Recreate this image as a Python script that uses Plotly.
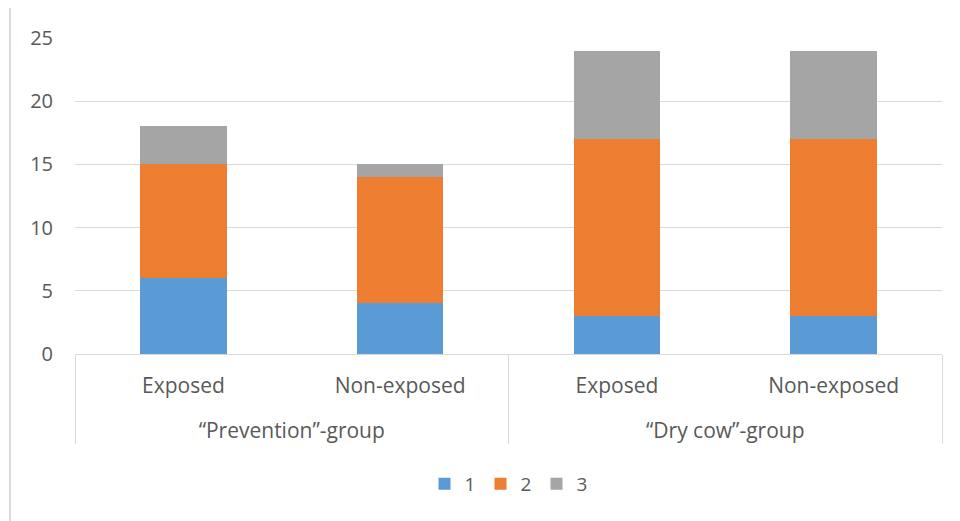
import plotly.graph_objects as go

groups = ["“Prevention”-group", "“Prevention”-group", "“Dry cow”-group", "“Dry cow”-group"]
subcats = ["Exposed", "Non-exposed", "Exposed", "Non-exposed"]
series_names = ["1", "2", "3"]
s1 = [6, 4, 3, 3]
s2 = [9, 10, 14, 14]
s3 = [3, 1, 7, 7]
colors = ["#5b9bd5", "#ed7d31", "#a5a5a5"]
y_ticks = [0, 5, 10, 15, 20, 25]

# a blank first line widens the gap between the two label rows
x_groups = ["<br>" + g for g in groups]
x_subcats = subcats

fig = go.Figure()
for name, vals, c in zip(series_names, [s1, s2, s3], colors):
    fig.add_trace(go.Bar(x=[x_groups, x_subcats], y=vals, name=name, marker_color=c,
                         marker_line_width=0))

# page has an 8px body margin; margins compensate so the plot lands where the reference has it
L, T, R, B = 67, 30, 26, 175
H = 521
plot_h = H - T - B

fig.update_layout(
    barmode="stack",
    bargap=0.6,
    width=960, height=H,
    margin=dict(l=L, r=R, t=T, b=B, autoexpand=False),
    plot_bgcolor="white", paper_bgcolor="white",
    font=dict(family="Open Sans, sans-serif", size=19, color="#595959"),
    legend=dict(orientation="h", x=0.5, xanchor="center",
                y=(T + plot_h - 476) / plot_h, yanchor="middle",
                font=dict(size=19), itemwidth=30, traceorder="normal",
                entrywidth=11, entrywidthmode="pixels"),
    showlegend=True,
)
fig.update_yaxes(range=[0, 25], tickvals=y_ticks, showgrid=True, gridcolor="#d9d9d9",
                 gridwidth=1, zeroline=False, showline=False, ticklabelstandoff=21,
                 tickfont=dict(size=20))
fig.update_xaxes(showline=True, linecolor="#d9d9d9", linewidth=1, showgrid=False,
                 showdividers=True, dividercolor="#d9d9d9", dividerwidth=1,
                 tickfont=dict(size=21), ticks="", ticklabelstandoff=13)
fig.add_shape(type="line", xref="paper", yref="paper",
              x0=(2 - L) / (960 - L - R), x1=(2 - L) / (960 - L - R),
              y0=(T + plot_h - 0) / plot_h, y1=(T + plot_h - 513) / plot_h,
              line=dict(color="#d9d9d9", width=2))
fig.write_html("out.html")
